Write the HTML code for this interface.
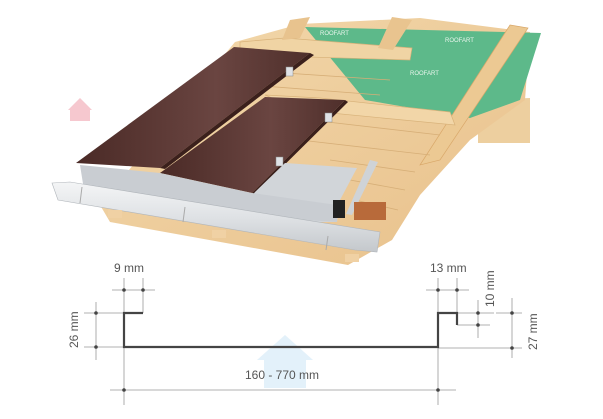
<!DOCTYPE html>
<html><head><style>
html,body{margin:0;padding:0;background:#fff;}
svg{display:block;}
text{font-family:"Liberation Sans",sans-serif;fill:#555;}
</style></head><body>
<svg width="603" height="419" viewBox="0 0 603 419" xmlns="http://www.w3.org/2000/svg">
<defs>
<linearGradient id="wood" x1="0" y1="0" x2="1" y2="1">
<stop offset="0" stop-color="#f3d9ad"/><stop offset="1" stop-color="#e8c08a"/>
</linearGradient>
<linearGradient id="brown" x1="0" y1="0" x2="1" y2="0">
<stop offset="0" stop-color="#4a2a26"/><stop offset="0.6" stop-color="#6a4541"/><stop offset="1" stop-color="#4f2f2b"/>
</linearGradient>
<linearGradient id="gut" x1="0" y1="0" x2="0" y2="1">
<stop offset="0" stop-color="#f4f5f6"/><stop offset="0.5" stop-color="#dfe2e5"/><stop offset="1" stop-color="#c4c8cc"/>
</linearGradient>
</defs>
<!-- light blue watermark (faint, behind) -->
<g fill="#e3f1fa"><polygon points="285,335 257,360 313,360"/><rect x="264" y="358" width="42" height="30"/></g>
<!-- beam right -->
<polygon points="478,100 530,98 530,143 478,143" fill="#edcf9f"/>
<!-- wood deck -->
<polygon points="235,42 300,24 420,18 530,32 525,100 470,140 420,195 392,240 348,265 110,222 100,205" fill="url(#wood)"/>
<!-- green membrane -->
<polygon points="305,27 541,33 520,100 470,118 365,100" fill="#5db98a"/>
<text x="320" y="35" style="font-size:6px;fill:#e8f5ec">ROOFART</text>
<text x="445" y="42" style="font-size:6px;fill:#e8f5ec">ROOFART</text>
<text x="410" y="75" style="font-size:6px;fill:#e8f5ec">ROOFART</text>
<!-- battens -->
<polygon points="240,42 285,38 412,48 410,60 240,55" fill="#f0d4a4" stroke="#d8b27a" stroke-width="0.7"/>
<polygon points="290,20 310,17 300,38 282,40" fill="#e8c38e"/>
<polygon points="392,17 412,20 393,50 378,48" fill="#e9c48f"/>
<polygon points="510,25 528,28 440,160 420,165" fill="#ecc993" stroke="#d9a86a" stroke-width="0.7"/>
<g stroke="#d6ae77" stroke-width="0.8" fill="none">
<line x1="240" y1="70" x2="390" y2="80"/><line x1="250" y1="85" x2="380" y2="95"/>
<line x1="300" y1="105" x2="450" y2="120"/><line x1="310" y1="120" x2="440" y2="135"/>
<line x1="300" y1="140" x2="430" y2="155"/><line x1="330" y1="160" x2="415" y2="172"/>
<line x1="350" y1="180" x2="405" y2="190"/><line x1="355" y1="200" x2="398" y2="210"/>
</g>
<polygon points="265,95 320,98 450,112 455,125 300,110" fill="#f2d6a8" stroke="#d8b27a" stroke-width="0.7"/>
<!-- brown panels -->
<polygon points="234,47 310,53 160,168 76,163" fill="url(#brown)"/>
<polygon points="310,53 314,55 165,169 160,168" fill="#3b201c"/>
<polygon points="265,97 345,100 252,193 160,173" fill="url(#brown)"/>
<polygon points="345,100 348,102 255,194 252,193" fill="#3b201c"/>
<!-- clips -->
<rect x="286" y="67" width="7" height="9" fill="#dfe2e6" stroke="#888" stroke-width="0.5"/>
<rect x="325" y="113" width="7" height="9" fill="#dfe2e6" stroke="#888" stroke-width="0.5"/>
<rect x="276" y="157" width="7" height="9" fill="#dfe2e6" stroke="#888" stroke-width="0.5"/>
<!-- gray flashing -->
<polygon points="255,192 285,163 357,168 340,200 337,222 290,222 240,212" fill="#d1d5d9"/>
<polygon points="80,165 160,173 252,193 337,205 337,222 230,215 84,190" fill="#c9cdd2"/>
<polygon points="370,160 378,162 352,215 346,214" fill="#cfd3d7"/>
<!-- brick -->
<rect x="354" y="202" width="32" height="18" fill="#b86a3a"/>
<rect x="333" y="200" width="12" height="18" fill="#222"/>
<!-- gutter -->
<polygon points="52,183 70,182 380,232 377,252 355,250 58,200" fill="url(#gut)" stroke="#b0b5ba" stroke-width="0.6"/>
<line x1="82" y1="187" x2="80" y2="203" stroke="#aaa"/>
<line x1="185" y1="207" x2="183" y2="222" stroke="#aaa"/>
<line x1="328" y1="236" x2="326" y2="250" stroke="#aaa"/>
<rect x="108" y="210" width="14" height="8" fill="#f0d1a4"/>
<rect x="212" y="230" width="14" height="8" fill="#f0d1a4"/>
<rect x="345" y="254" width="14" height="8" fill="#f0d1a4"/>
<!-- pink house -->
<g fill="#f6c8cf"><polygon points="80,98 68,110 92,110"/><rect x="70" y="109" width="20" height="12"/></g>
<!-- profile -->
<g stroke="#999" stroke-width="0.8" fill="none">
<line x1="124" y1="278" x2="124" y2="405"/><line x1="143" y1="278" x2="143" y2="313"/>
<line x1="112" y1="290" x2="155" y2="290"/>
<line x1="84" y1="313" x2="124" y2="313"/><line x1="84" y1="347" x2="124" y2="347"/>
<line x1="96" y1="302" x2="96" y2="360"/>
<line x1="438" y1="278" x2="438" y2="405"/><line x1="457" y1="278" x2="457" y2="313"/>
<line x1="426" y1="290" x2="469" y2="290"/>
<line x1="110" y1="390" x2="456" y2="390"/>
<line x1="457" y1="313" x2="494" y2="313"/><line x1="457" y1="325" x2="490" y2="325"/>
<line x1="478" y1="300" x2="478" y2="338"/>
<line x1="496" y1="313" x2="522" y2="313"/><line x1="438" y1="348" x2="522" y2="348"/>
<line x1="512" y1="298" x2="512" y2="358"/>
</g>
<polyline points="143,313 124,313 124,347 438,347 438,313 457,313 457,325" fill="none" stroke="#444" stroke-width="2.2"/>
<g fill="#444">
<circle cx="124" cy="290" r="1.8"/><circle cx="143" cy="290" r="1.8"/>
<circle cx="438" cy="290" r="1.8"/><circle cx="457" cy="290" r="1.8"/>
<circle cx="96" cy="313" r="1.8"/><circle cx="96" cy="347" r="1.8"/>
<circle cx="478" cy="313" r="1.8"/><circle cx="478" cy="325" r="1.8"/>
<circle cx="512" cy="313" r="1.8"/><circle cx="512" cy="348" r="1.8"/>
<circle cx="124" cy="390" r="1.8"/><circle cx="438" cy="390" r="1.8"/>
</g>
<text x="114" y="272" style="font-size:12px">9 mm</text>
<text x="430" y="272" style="font-size:12px">13 mm</text>
<text x="245" y="379" style="font-size:12px">160 - 770 mm</text>
<text transform="translate(78,348) rotate(-90)" style="font-size:12px">26 mm</text>
<text transform="translate(494,307) rotate(-90)" style="font-size:12px">10 mm</text>
<text transform="translate(537,350) rotate(-90)" style="font-size:12px">27 mm</text>
</svg>
</body></html>
